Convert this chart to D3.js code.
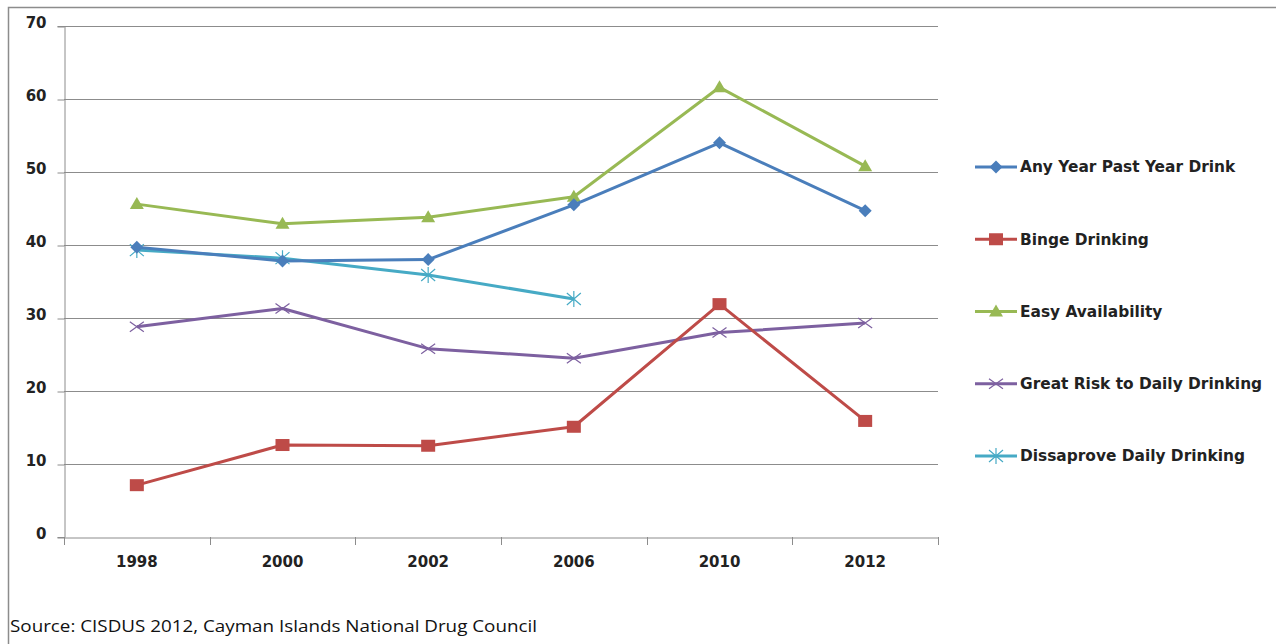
<!DOCTYPE html>
<html><head><meta charset="utf-8">
<script src="https://cdn.jsdelivr.net/npm/d3@7"></script>
<style>body{margin:0;background:#fff}svg{display:block}</style>
</head><body>
<svg id="c" width="1276" height="644"></svg>
<script>
const years = ["1998","2000","2002","2006","2010","2012"];
const yTicks = [0,10,20,30,40,50,60,70];
const seriesNames = ["Any Year Past Year Drink","Binge Drinking","Easy Availability","Great Risk to Daily Drinking","Dissaprove Daily Drinking"];
const anyYear = [39.7,37.8,38.0,45.5,54.0,44.7];
const binge = [7.1,12.6,12.5,15.1,31.9,15.9];
const easy = [45.6,42.9,43.8,46.6,61.6,50.8];
const greatRisk = [28.8,31.3,25.8,24.5,28.0,29.3];
const disapprove = [39.3,38.2,35.9,32.6,null,null];
const colors = ["#4a7ebb","#be4b48","#98b954","#7d60a0","#46aac5"];
const markers = ["diamond","square","triangle","x","star"];
const allSeries = [anyYear,binge,easy,greatRisk,disapprove];

const svg = d3.select("#c");
// outer frame
svg.append("rect").attr("x",8.5).attr("y",7.5).attr("width",1300).attr("height",700)
  .attr("fill","none").attr("stroke","#8c8c8c").attr("stroke-width",1.5);

const L=64,R=938,T=26,B=537;
const x = d3.scaleBand().domain(years).range([L,R]);
const y = d3.scaleLinear().domain([0,70]).range([B,T]);

// gridlines
svg.append("g").selectAll("line").data(yTicks.filter(d=>d>0)).join("line")
  .attr("x1",L).attr("x2",R).attr("y1",d=>y(d)+0.5).attr("y2",d=>y(d)+0.5)
  .attr("stroke","#8c8c8c").attr("stroke-width",1);

// y axis
const ya = svg.append("g").attr("transform",`translate(${L+0.5},0)`)
  .call(d3.axisLeft(y).tickValues(yTicks).tickSize(7).tickPadding(11));
ya.select(".domain").attr("stroke","#8c8c8c");
ya.selectAll(".tick line").attr("stroke","#8c8c8c").attr("transform","translate(0,0.5)");
ya.selectAll("text").attr("font-family","'DejaVu Sans', sans-serif").attr("font-weight","bold")
  .attr("font-size",15).attr("fill","#222").attr("dy","0.1em");

// x axis
const xa = svg.append("g").attr("transform",`translate(0,${B+0.5})`)
  .call(d3.axisBottom(x).tickSize(0).tickPadding(19));
xa.select(".domain").attr("stroke","#8c8c8c");
xa.selectAll("text").attr("font-family","'DejaVu Sans', sans-serif").attr("font-weight","bold")
  .attr("font-size",15).attr("fill","#222");
// tick marks at band boundaries
const bounds = years.map(d=>x(d)).concat([R]);
svg.append("g").selectAll("line").data(bounds).join("line")
  .attr("x1",d=>Math.round(d)+0.5).attr("x2",d=>Math.round(d)+0.5)
  .attr("y1",B).attr("y2",B+8).attr("stroke","#8c8c8c");

function drawMarker(g, type, color){
  if(type==="diamond"){
    g.append("path").attr("d","M0,-6.5L6.5,0L0,6.5L-6.5,0Z").attr("fill",color);
  } else if(type==="square"){
    g.append("rect").attr("x",-7).attr("y",-6).attr("width",14).attr("height",12).attr("fill",color);
  } else if(type==="triangle"){
    g.append("path").attr("d","M0,-7L7,5L-7,5Z").attr("fill",color);
  } else if(type==="x"){
    g.append("path").attr("d","M-7,-5L7,5M-7,5L7,-5").attr("stroke",color).attr("stroke-width",1.2).attr("fill","none");
  } else if(type==="star"){
    g.append("path").attr("d","M-7,-6L7,6M-7,6L7,-6M0,-8L0,8").attr("stroke",color).attr("stroke-width",1.2).attr("fill","none");
  }
}

const line = d3.line().defined(d=>d.v!=null).x(d=>x(d.k)+x.bandwidth()/2).y(d=>y(d.v));
const drawOrder = [4,3,1,2,0];
drawOrder.forEach(i=>{
  const data = years.map((k,j)=>({k,v:allSeries[i][j]}));
  svg.append("path").datum(data).attr("d",line).attr("fill","none")
    .attr("stroke",colors[i]).attr("stroke-width",3).attr("stroke-linejoin","round");
  data.filter(d=>d.v!=null).forEach(d=>{
    const g = svg.append("g").attr("transform",`translate(${x(d.k)+x.bandwidth()/2},${y(d.v)})`);
    drawMarker(g, markers[i], colors[i]);
  });
});

// legend
const ly = d3.scalePoint().domain(seriesNames).range([167,456]);
seriesNames.forEach((n,i)=>{
  const g = svg.append("g").attr("transform",`translate(0,${ly(n)})`);
  g.append("line").attr("x1",975).attr("x2",1017).attr("y1",0).attr("y2",0)
    .attr("stroke",colors[i]).attr("stroke-width",3);
  const m = g.append("g").attr("transform","translate(996,0)");
  drawMarker(m, markers[i], colors[i]);
  g.append("text").attr("x",1020).attr("y",0).attr("dy","0.35em").text(n)
    .attr("font-family","'DejaVu Sans', sans-serif").attr("font-weight","bold")
    .attr("font-size",15.4).attr("fill","#222");
});

// source
svg.append("text").attr("x",10).attr("y",632).text("Source: CISDUS 2012, Cayman Islands National Drug Council")
  .attr("font-family","'Open Sans', sans-serif").attr("font-size",17).attr("fill","#111")
  .attr("textLength",527).attr("lengthAdjust","spacingAndGlyphs");
</script>
</body></html>
